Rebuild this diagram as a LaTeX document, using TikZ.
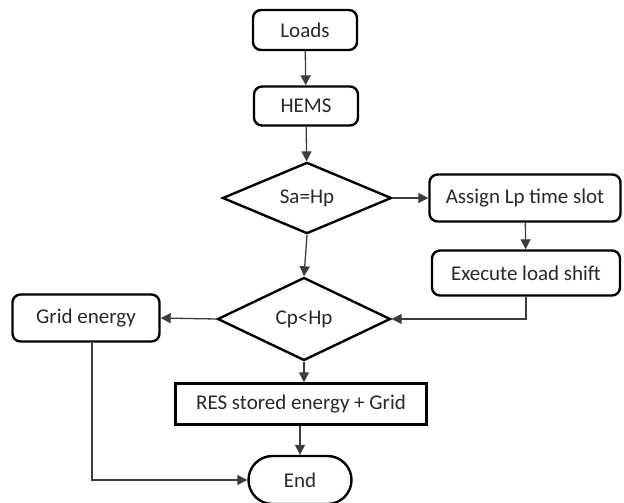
\documentclass[tikz,border=0pt]{standalone}
\usepackage{fontspec}
\setmainfont{Carlito}
\usepackage{xcolor}
\usetikzlibrary{shapes.geometric,shapes.misc,arrows.meta}

\definecolor{txtgray}{RGB}{40,40,40}
\definecolor{linegray}{RGB}{60,60,60}

\begin{document}
\begin{tikzpicture}[
        x=1pt, y=-1pt,
        every node/.style = {font=\fontsize{21}{24}\selectfont, text=txtgray},
        box/.style = {draw, rounded corners=8pt, line width=2.4pt, inner sep=2pt},
        plainbox/.style = {draw, line width=2.4pt, inner sep=2pt},
        decide/.style = {draw, diamond, line width=2.4pt, inner sep=0pt},
        terminal/.style = {draw, rounded rectangle, line width=2.4pt, inner sep=2pt},
        flow/.style = {draw=linegray, line width=1.3pt, -{Triangle[length=10pt,width=10pt]}}
    ]
        \useasboundingbox (0,0) rectangle (624,503);
        \node[box, minimum width=104pt, minimum height=40pt] (loads) at (305,30) {Loads};
        \node[box, minimum width=104pt, minimum height=39pt] (hems) at (306,106) {HEMS};
        \node[decide, minimum width=169pt, minimum height=71pt] (sahp) at (307,198) {Sa=Hp};
        \node[box, minimum width=191pt, minimum height=47pt] (assign) at (525,198) {Assign Lp time slot};
        \node[box, minimum width=188pt, minimum height=45pt] (exec) at (526,273) {Execute load shift};
        \node[decide, minimum width=173pt, minimum height=83pt] (cphp) at (304,319) {Cp<Hp};
        \node[box, minimum width=147pt, minimum height=47pt] (grid) at (86,318) {Grid energy};
        \node[plainbox, minimum width=251pt, minimum height=41pt] (res) at (301,404) {RES stored energy + Grid};
        \node[terminal, minimum width=107pt, minimum height=48pt] (end) at (300,480) {End};

        \draw[flow] (loads) -- (hems);
        \draw[flow] (hems) -- (sahp);
        \draw[flow] (sahp) -- (assign);
        \draw[flow] (assign) -- (exec);
        \draw[flow] (sahp.south) -- (cphp.north);
        \draw[flow] (exec.south) |- (cphp.east);
        \draw[flow] (cphp.west) -- (grid.east);
        \draw[flow] (cphp.south) -- (res.north -| cphp.south);
        \draw[flow] (res.south -| end.north) -- (end.north);
        \draw[flow] ([xshift=6pt]grid.south) |- (end.west);
    \end{tikzpicture}
\end{document}
